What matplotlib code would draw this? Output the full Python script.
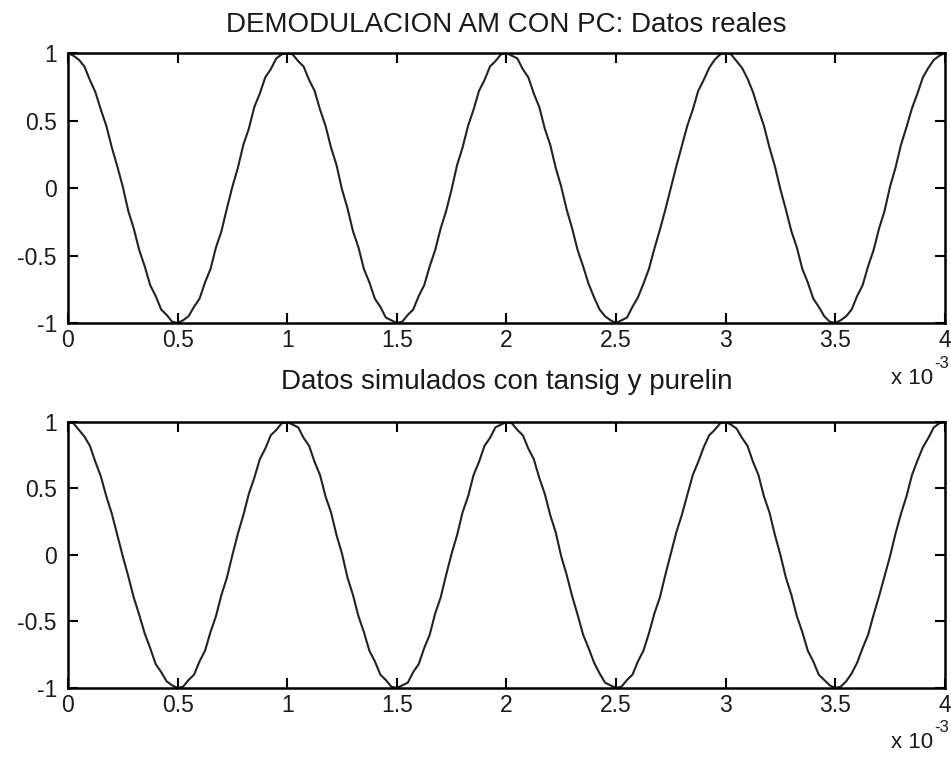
import numpy as np
import matplotlib.pyplot as plt

plt.rcParams['font.family'] = ['Liberation Sans', 'DejaVu Sans']

# senal demodulada, muestras cada 0.025 ms (0 .. 4 ms)
t = np.linspace(0, 4e-3, 161)

datos_reales = [
    1.00, 0.98, 0.95, 0.90, 0.80, 0.71, 0.58, 0.46, 0.30, 0.16, 0.01, -0.17, -0.30, -0.46, -0.58, -0.72, -0.80, -0.90, -0.94, -0.99,
    -1.00, -0.98, -0.95, -0.88, -0.82, -0.70, -0.60, -0.44, -0.32, -0.15, 0.01, 0.15, 0.32, 0.44, 0.60, 0.70, 0.82, 0.88, 0.96, 0.99,
    1.00, 0.99, 0.94, 0.90, 0.80, 0.72, 0.58, 0.46, 0.30, 0.17, -0.01, -0.15, -0.32, -0.44, -0.60, -0.70, -0.82, -0.88, -0.96, -0.98,
    -1.00, -0.99, -0.94, -0.90, -0.80, -0.72, -0.58, -0.46, -0.30, -0.17, -0.01, 0.17, 0.30, 0.46, 0.58, 0.72, 0.80, 0.90, 0.94, 0.99,
    1.00, 0.98, 0.96, 0.88, 0.82, 0.70, 0.60, 0.44, 0.32, 0.15, 0.01, -0.16, -0.30, -0.46, -0.58, -0.71, -0.81, -0.90, -0.95, -0.98,
    -1.00, -0.98, -0.96, -0.88, -0.81, -0.71, -0.60, -0.45, -0.31, -0.16, 0.00, 0.16, 0.31, 0.46, 0.58, 0.72, 0.80, 0.89, 0.95, 0.99,
    1.00, 0.99, 0.94, 0.89, 0.81, 0.71, 0.58, 0.46, 0.30, 0.16, -0.01, -0.16, -0.32, -0.44, -0.60, -0.70, -0.82, -0.88, -0.95, -0.99,
    -1.00, -0.98, -0.95, -0.90, -0.80, -0.72, -0.58, -0.46, -0.30, -0.17, 0.01, 0.15, 0.32, 0.45, 0.59, 0.70, 0.82, 0.89, 0.95, 0.98,
    1.00]

datos_simulados = [
    1.00, 0.99, 0.94, 0.89, 0.82, 0.70, 0.59, 0.44, 0.31, 0.15, -0.01, -0.16, -0.32, -0.45, -0.59, -0.70, -0.82, -0.88, -0.95, -0.98,
    -1.00, -0.99, -0.94, -0.90, -0.80, -0.72, -0.58, -0.46, -0.30, -0.17, 0.00, 0.16, 0.30, 0.46, 0.58, 0.72, 0.80, 0.90, 0.94, 0.99,
    1.00, 0.98, 0.96, 0.88, 0.82, 0.70, 0.60, 0.44, 0.32, 0.15, 0.01, -0.17, -0.30, -0.46, -0.58, -0.72, -0.80, -0.90, -0.94, -0.99,
    -1.00, -0.98, -0.96, -0.88, -0.82, -0.70, -0.60, -0.44, -0.32, -0.15, 0.01, 0.15, 0.32, 0.44, 0.60, 0.70, 0.82, 0.88, 0.96, 0.98,
    1.00, 0.99, 0.94, 0.90, 0.80, 0.72, 0.58, 0.46, 0.30, 0.17, -0.01, -0.15, -0.31, -0.45, -0.60, -0.70, -0.81, -0.89, -0.96, -0.98,
    -1.00, -0.99, -0.94, -0.90, -0.80, -0.72, -0.59, -0.44, -0.32, -0.15, 0.01, 0.17, 0.30, 0.45, 0.60, 0.70, 0.81, 0.90, 0.94, 0.99,
    1.00, 0.98, 0.95, 0.88, 0.82, 0.70, 0.60, 0.44, 0.32, 0.15, 0.00, -0.17, -0.30, -0.46, -0.58, -0.72, -0.80, -0.90, -0.94, -0.98,
    -1.00, -0.99, -0.95, -0.89, -0.81, -0.70, -0.60, -0.45, -0.31, -0.16, -0.01, 0.16, 0.31, 0.44, 0.60, 0.71, 0.81, 0.88, 0.96, 0.99,
    1.00]

x_ticks = [0, 0.5, 1, 1.5, 2, 2.5, 3, 3.5, 4]
y_ticks = [-1, -0.5, 0, 0.5, 1]

titulos = ['DEMODULACION AM CON PC: Datos reales',
           'Datos simulados con tansig y purelin']

fig = plt.figure(figsize=(9.51, 7.72), dpi=100)
ax1 = fig.add_axes([0.0715, 0.5816, 0.922, 0.3497])
ax2 = fig.add_axes([0.0715, 0.1088, 0.922, 0.3446])

color_txt = '#1a1a1a'
for ax, y, tit, pad in [(ax1, datos_reales, titulos[0], 15),
                        (ax2, datos_simulados, titulos[1], 24)]:
    ax.plot(t * 1e3, y, color='#222222', lw=1.5)
    ax.set_xlim(0, 4)
    ax.set_ylim(-1, 1)
    ax.set_xticks(x_ticks)
    ax.set_xticklabels(['0', '0.5', '1', '1.5', '2', '2.5', '3', '3.5', '4'])
    ax.set_yticks(y_ticks)
    ax.set_yticklabels(['-1', '-0.5', '0', '0.5', '1'])
    ax.tick_params(direction='in', length=7, width=1.5, top=True, right=True,
                   labelsize=16.5, colors='black', labelcolor=color_txt)
    ax.tick_params(axis='x', pad=4)
    ax.tick_params(axis='y', pad=8)
    for s in ax.spines.values():
        s.set_linewidth(1.8)
    ax.set_title(tit, fontsize=20, color=color_txt, pad=pad)
    # factor de escala estilo MATLAB
    ax.text(0.987, -0.205, 'x 10', transform=ax.transAxes, ha='right',
            va='center', fontsize=16, color=color_txt)
    ax.text(0.988, -0.15, '-3', transform=ax.transAxes, ha='left',
            va='center', fontsize=12, color=color_txt)

fig.savefig('out.png', dpi=100)
